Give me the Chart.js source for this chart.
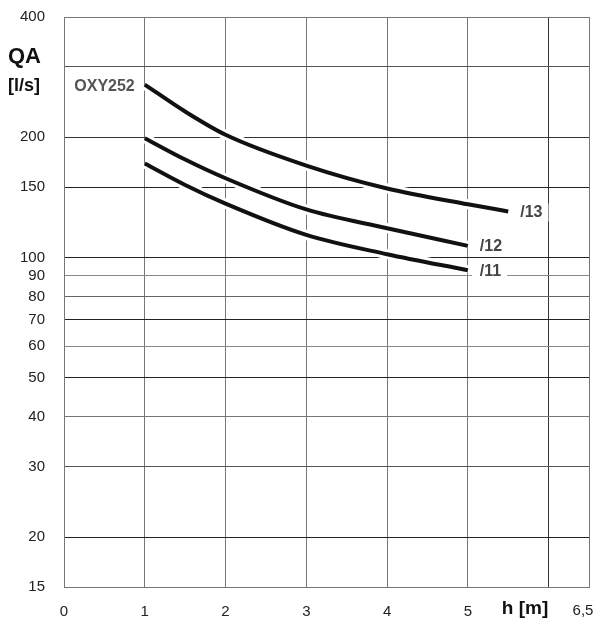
<!DOCTYPE html>
<html>
<head>
<meta charset="utf-8">
<script src="https://cdn.jsdelivr.net/npm/chart.js@4.4.1/dist/chart.umd.min.js"></script>
<style>
  html, body { margin: 0; padding: 0; background: #fff; overflow: hidden; }
  canvas { display: block; }
</style>
</head>
<body>
<canvas id="chart" width="601" height="618"></canvas>
<script>
// Head h [m] and flow QA [l/s] for the three OXY252 impeller variants
const head13 = [1, 1.5, 2, 3, 4, 5, 5.5];
const flow13 = [271, 232, 203, 170, 149, 136, 130.5];
const head12 = [1, 1.5, 2, 3, 4, 5];
const flow12 = [199, 176, 158, 132, 118.5, 107];
const head11 = [1, 1.5, 2, 3, 4, 5];
const flow11 = [172, 152, 136.5, 114, 102, 93];

const seriesNames = ['/13', '/12', '/11'];
const yTicks = [15, 20, 30, 40, 50, 60, 70, 80, 90, 100, 150, 200, 300, 400];
const yTickLabels = ['15', '20', '30', '40', '50', '60', '70', '80', '90', '100', '150', '200', '', '400'];
const xTicks = [0, 1, 2, 3, 4, 5, 6, 6.5];
const xTickLabels = ['0', '1', '2', '3', '4', '5', '', ''];

const FONT = '"Liberation Sans", Arial, sans-serif';

// horizontal grid shades per flow value
const yGridColor = {15: '#777', 20: '#222', 30: '#555', 40: '#777', 50: '#222', 60: '#888',
  70: '#222', 80: '#666', 90: '#888', 100: '#222', 150: '#222', 200: '#333', 300: '#555', 400: '#777'};

const toPoints = (hs, qs) => hs.map((h, i) => ({x: h, y: qs[i]}));
const curves = [toPoints(head13, flow13), toPoints(head12, flow12), toPoints(head11, flow11)];

const datasets = [];
curves.forEach((pts, i) => {
  // white halo underneath so grid lines break around each curve
  datasets.push({
    label: seriesNames[i] + ' halo', data: pts, borderColor: '#fff', borderWidth: 10,
    pointRadius: 0, cubicInterpolationMode: 'monotone', order: 2, borderCapStyle: 'butt'
  });
  datasets.push({
    label: seriesNames[i], data: pts, borderColor: '#111', borderWidth: 4,
    pointRadius: 0, cubicInterpolationMode: 'monotone', order: 1, borderCapStyle: 'butt'
  });
});

const annotate = {
  id: 'annotate',
  afterDatasetsDraw(chart) {
    const {ctx, scales: {x, y}} = chart;
    ctx.save();
    ctx.textBaseline = 'middle';
    // series labels at the end of each curve
    ctx.font = 'bold 16px ' + FONT;
    ctx.textAlign = 'left';
    curves.forEach((pts, i) => {
      const last = pts[pts.length - 1];
      const px = x.getPixelForValue(last.x) + 12;
      const py = y.getPixelForValue(last.y) + 1;
      const w = ctx.measureText(seriesNames[i]).width;
      ctx.fillStyle = '#fff';
      ctx.fillRect(px - 8, py - 9, w + 14, 18);
      ctx.fillStyle = '#444';
      ctx.fillText(seriesNames[i], px, py);
    });
    // model name before the top curve
    const first = curves[0][0];
    ctx.textAlign = 'right';
    ctx.fillStyle = '#555';
    ctx.fillText('OXY252', x.getPixelForValue(first.x) - 10, y.getPixelForValue(first.y) + 2);
    ctx.restore();
  },
  afterDraw(chart) {
    const {ctx} = chart;
    ctx.save();
    ctx.fillStyle = '#111';
    ctx.textBaseline = 'middle';
    ctx.textAlign = 'left';
    // axis titles
    ctx.font = 'bold 22px ' + FONT;
    ctx.fillText('QA', 8, 57);
    ctx.font = 'bold 18px ' + FONT;
    ctx.fillText('[l/s]', 8, 86);
    ctx.font = 'bold 19px ' + FONT;
    ctx.textAlign = 'center';
    ctx.fillText('h [m]', 525, 609);
    ctx.font = '15px ' + FONT;
    ctx.fillStyle = '#222';
    ctx.fillText('6,5', 583, 611);
    ctx.restore();
  }
};

new Chart(document.getElementById('chart'), {
  type: 'line',
  data: {datasets},
  options: {
    responsive: false,
    maintainAspectRatio: false,
    animation: false,
    devicePixelRatio: 1,
    layout: {padding: {top: 17, right: 12, left: 0, bottom: 0}},
    plugins: {legend: {display: false}, tooltip: {enabled: false}},
    scales: {
      x: {
        type: 'linear', min: 0, max: 6.5,
        afterBuildTicks: s => { s.ticks = xTicks.map(v => ({value: v})); },
        afterFit: s => { s.height = 31; s.paddingLeft = 0; s.paddingRight = 0; },
        grid: {color: ctx => (ctx.tick && ctx.tick.value === 6 ? '#333' : '#777'), lineWidth: 1, drawTicks: false},
        border: {color: '#777', width: 1},
        ticks: {
          color: '#222', font: {family: FONT, size: 15}, padding: 16, maxRotation: 0, autoSkip: false,
          callback: (v, i) => xTickLabels[i]
        }
      },
      y: {
        type: 'logarithmic', min: 15, max: 400,
        afterBuildTicks: s => { s.ticks = yTicks.map(v => ({value: v})); },
        afterFit: s => { s.width = 64; s.paddingTop = 0; s.paddingBottom = 0; },
        grid: {color: ctx => (ctx.tick ? yGridColor[ctx.tick.value] || '#777' : '#777'), lineWidth: 1, drawTicks: false},
        border: {color: '#777', width: 1},
        ticks: {
          color: '#222', font: {family: FONT, size: 15}, padding: 19, autoSkip: false,
          callback: (v, i) => yTickLabels[i]
        }
      }
    }
  },
  plugins: [annotate]
});
</script>
</body>
</html>
